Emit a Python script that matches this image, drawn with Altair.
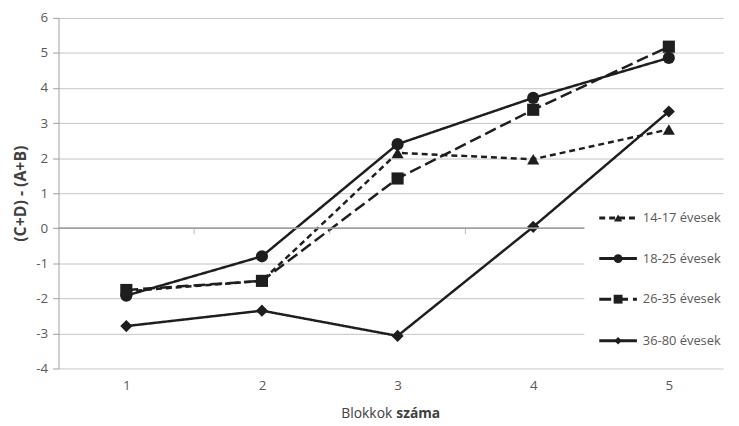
import altair as alt
import pandas as pd

# ---- data ----
blocks = [1, 2, 3, 4, 5]
series_names = ["14-17 évesek", "18-25 évesek", "26-35 évesek", "36-80 évesek"]
v_14_17 = [-1.80, -1.50, 2.15, 1.97, 2.82]
v_18_25 = [-1.92, -0.80, 2.40, 3.72, 4.86]
v_26_35 = [-1.76, -1.50, 1.42, 3.38, 5.18]
v_36_80 = [-2.79, -2.35, -3.07, 0.04, 3.33]
y_ticks = [-4, -3, -2, -1, 0, 1, 2, 3, 4, 5, 6]
x_title_parts = ["Blokkok", "száma"]
y_title = "(C+D) - (A+B)"

# ---- styles ----
shapes = ["triangle-up", "circle", "square", "diamond"]
dashes = [[6, 4], [1, 0], [12, 5], [1, 0]]
widths = [2.5, 2.5, 2.5, 2.2]
INK = "#1e1e1e"
GRID = "#c4c4c4"
AXIS = "#9e9e9e"
TXT = "#595959"
FONT = "Open Sans"
FS = 13.5

rows = []
for name, vals in zip(series_names, [v_14_17, v_18_25, v_26_35, v_36_80]):
    for b, v in zip(blocks, vals):
        rows.append({"blokk": b, "ertek": v, "csoport": name})
df = pd.DataFrame(rows)

W, H = 671, 354
x_scale = alt.Scale(domain=[0.5, 5.4], nice=False, zero=False)
y_scale = alt.Scale(domain=[-4, 6], nice=False, zero=False)

x_axis = alt.Axis(values=blocks, title=None, grid=False, ticks=False,
                  domain=False, labelPadding=10, labelFontSize=FS,
                  labelColor=TXT, labelFont=FONT, labelExpr="datum.value")
y_axis = alt.Axis(values=y_ticks, title=y_title, grid=True,
                  gridColor=GRID, gridWidth=1, domainColor=AXIS,
                  tickColor=AXIS, tickSize=6, labelPadding=5,
                  labelOverlap=False, labelFlush=False,
                  labelFontSize=FS, labelColor=TXT, labelFont=FONT,
                  labelExpr="datum.value",
                  titleFont=FONT, titleFontSize=16, titleFontWeight="bold",
                  titleColor="#404040", titlePadding=7)

X = alt.X("blokk:Q", scale=x_scale, axis=x_axis)
Y = alt.Y("ertek:Q", scale=y_scale, axis=y_axis)

base = alt.Chart(df).encode(x=X, y=Y)

lines = base.mark_line(color=INK).encode(
    strokeDash=alt.StrokeDash("csoport:N",
                              scale=alt.Scale(domain=series_names, range=dashes),
                              legend=None),
    strokeWidth=alt.StrokeWidth("csoport:N",
                                scale=alt.Scale(domain=series_names, range=widths),
                                legend=None),
)
points = base.mark_point(filled=True, opacity=1, color=INK, size=150).encode(
    shape=alt.Shape("csoport:N", scale=alt.Scale(domain=series_names, range=shapes),
                    legend=None),
)

# horizontal axis line at 0 with ticks between categories
bounds = pd.DataFrame({"blokk": [k + 0.5 for k in blocks[:-1]],
                       "ertek": [0] * (len(blocks) - 1)})
zero_rule = alt.Chart(bounds).mark_rule(color=AXIS, strokeWidth=1).encode(y=Y)
zero_ticks = alt.Chart(bounds).mark_tick(orient="vertical", size=6, thickness=1,
                                         color=AXIS, yOffset=3).encode(x=X, y=Y)

# legend (drawn manually, inside the plot area with white background)
one = pd.DataFrame({"k": [0]})
legend_bg = alt.Chart(one).mark_rect(color="white").encode(
    x=alt.value(531), x2=alt.value(W + 8), y=alt.value(182), y2=alt.value(347))
row_y = [202, 243, 284, 326]
leg_sizes = [70, 80, 80, 55]
legend_layers = [legend_bg]
for i, name in enumerate(series_names):
    ld = pd.DataFrame({"csoport": [name]})
    legend_layers.append(alt.Chart(ld).mark_rule(color=INK, strokeWidth=3,
                                                 strokeDash=dashes[i]).encode(
        x=alt.value(546), x2=alt.value(584), y=alt.value(row_y[i])))
    legend_layers.append(alt.Chart(ld).mark_point(filled=True, opacity=1, color=INK,
                                                  shape=shapes[i], size=leg_sizes[i]).encode(
        x=alt.value(565), y=alt.value(row_y[i])))
    legend_layers.append(alt.Chart(ld).mark_text(align="left", baseline="middle",
                                                 font=FONT, fontSize=13, color=TXT).encode(
        x=alt.value(590), y=alt.value(row_y[i]), text="csoport:N"))

# x-axis title, "száma" in bold
xt1 = alt.Chart(one).mark_text(align="right", baseline="middle", font=FONT,
                               fontSize=14, color="#404040").encode(
    x=alt.value(337), y=alt.value(400), text=alt.value(x_title_parts[0]))
xt2 = alt.Chart(one).mark_text(align="left", baseline="middle", font=FONT,
                               fontSize=14, fontWeight="bold", color="#404040").encode(
    x=alt.value(341), y=alt.value(400), text=alt.value(x_title_parts[1]))

chart = alt.layer(
    lines, points, zero_rule, zero_ticks, *legend_layers, xt1, xt2
).properties(
    width=W, height=H,
    autosize=alt.AutoSizeParams(type="none"),
    padding={"left": 51, "top": 8, "right": 8, "bottom": 52},
).configure(background="white", view=alt.ViewConfig(stroke=None))

chart.save("out.html", embed_options={"renderer": "svg", "actions": False})
